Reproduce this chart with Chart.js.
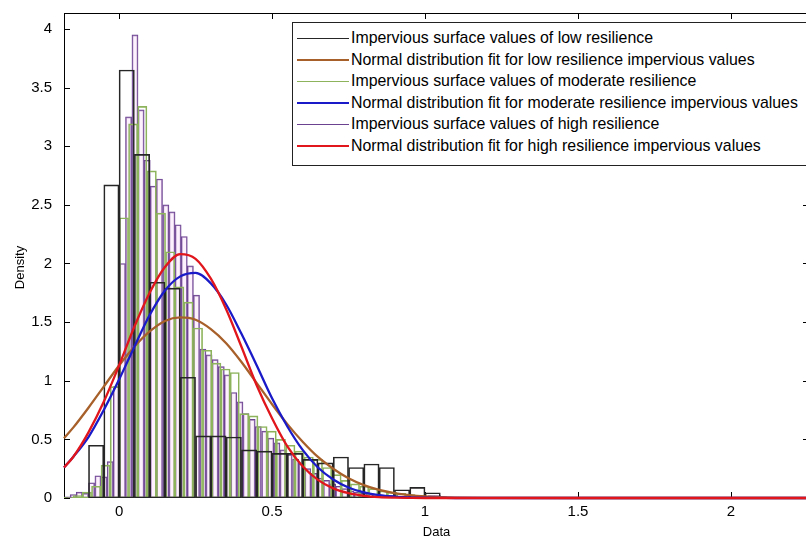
<!DOCTYPE html>
<html>
<head>
<meta charset="utf-8">
<script src="https://cdn.jsdelivr.net/npm/chart.js@4.4.0/dist/chart.umd.min.js"></script>
<style>
  html, body { margin: 0; padding: 0; background: #fff; overflow: hidden; }
  #wrap { position: relative; width: 806px; height: 540px; overflow: hidden; }
  #grafica { position: absolute; left: 0; top: 0; }
  #leyenda {
    position: absolute; left: 292px; top: 22px; width: 560px; height: 142px;
    border: 1px solid #222; background: #fff;
    font: 15.9px "Liberation Sans", Arial, sans-serif; color: #000;
  }
  .fila { position: absolute; left: 4px; height: 20px; line-height: 20px; white-space: nowrap; }
  .fila .muestra { position: absolute; left: 0; top: 10px; width: 52px; }
  .fila .texto { position: absolute; left: 54px; top: 0; }
</style>
</head>
<body>
<div id="wrap">
  <canvas id="grafica" width="820" height="540"></canvas>
  <div id="leyenda"></div>
</div>
<script>
// Histograma resiliencia baja (negro), ancho de clase 0.05
const bajaX = [-0.075, -0.025, 0.025, 0.075, 0.125, 0.175, 0.225, 0.275, 0.325, 0.375, 0.425, 0.475,
               0.525, 0.575, 0.625, 0.675, 0.725, 0.775, 0.825, 0.875, 0.925, 0.975, 1.025];
const bajaY = [0.45, 2.67, 3.65, 2.93, 1.84, 1.79, 1.03, 0.53, 0.53, 0.52, 0.41, 0.40,
               0.38, 0.38, 0.33, 0.30, 0.35, 0.26, 0.29, 0.26, 0.07, 0.09, 0.045];

// Histograma resiliencia moderada (verde)
const moderadaX = [-0.165, -0.135, -0.105, -0.075, -0.044, -0.014, 0.016, 0.046, 0.076, 0.107,
                   0.137, 0.167, 0.197, 0.227, 0.258, 0.288, 0.318, 0.348, 0.378, 0.409,
                   0.439, 0.469, 0.499, 0.529, 0.560, 0.590, 0.620, 0.650, 0.680, 0.711,
                   0.741, 0.771, 0.801, 0.831, 0.862, 0.892, 0.922, 0.952, 0.982, 1.013];
const moderadaY = [0.005, 0.02, 0.05, 0.10, 0.28, 0.95, 2.39, 3.19, 3.34, 2.79,
                   2.43, 2.10, 1.80, 1.67, 1.45, 1.26, 1.15, 1.10, 1.07, 0.72,
                   0.70, 0.61, 0.57, 0.50, 0.45, 0.40, 0.35, 0.33, 0.26, 0.20,
                   0.15, 0.12, 0.10, 0.08, 0.06, 0.05, 0.04, 0.03, 0.02, 0.01];

// Histograma resiliencia alta (morado)
const altaX = [-0.171, -0.150, -0.130, -0.110, -0.090, -0.069, -0.049, -0.029, -0.009,
               0.011, 0.031, 0.052, 0.072, 0.092, 0.112, 0.132, 0.153, 0.173, 0.193, 0.213,
               0.233, 0.253, 0.274, 0.294, 0.314, 0.334, 0.354, 0.375, 0.395, 0.415,
               0.435, 0.455, 0.476, 0.496, 0.516, 0.536, 0.556, 0.577, 0.597, 0.617,
               0.637, 0.657, 0.678, 0.698, 0.718, 0.738, 0.758, 0.779, 0.799, 0.819,
               0.839, 0.859, 0.880, 0.900, 0.920, 0.940, 0.960, 0.981, 1.001, 1.021,
               1.041, 1.061];
const altaY = [0.01, 0.03, 0.05, 0.04, 0.13, 0.19, 0.18, 0.31, 0.95,
               2.00, 3.25, 3.95, 3.31, 2.88, 2.66, 2.72, 2.50, 2.44, 2.33, 2.23,
               1.98, 1.73, 1.27, 1.22, 1.18, 1.12, 1.05, 0.90, 0.82, 0.72,
               0.67, 0.61, 0.57, 0.51, 0.47, 0.41, 0.37, 0.33, 0.29, 0.25,
               0.21, 0.17, 0.15, 0.12, 0.10, 0.08, 0.06, 0.05, 0.04, 0.035,
               0.03, 0.025, 0.02, 0.02, 0.015, 0.01, 0.01, 0.005, 0.01, 0.02,
               0.02, 0.01];

// Curvas de ajuste normal
const ajusteX = [-0.18, -0.15, -0.1, -0.05, 0, 0.05, 0.1, 0.15, 0.2, 0.25, 0.3, 0.35, 0.4, 0.45,
                 0.5, 0.55, 0.6, 0.65, 0.7, 0.75, 0.8, 0.85, 0.9, 0.95, 1.0, 1.05, 1.1, 1.2,
                 1.5, 1.8, 2.0, 2.26];
const ajusteBaja = [0.51, 0.60, 0.77, 0.95, 1.13, 1.29, 1.42, 1.51, 1.54, 1.52, 1.44, 1.32, 1.16, 0.98,
                    0.80, 0.63, 0.48, 0.35, 0.25, 0.168, 0.11, 0.069, 0.042, 0.025, 0.014, 0.0075, 0.004, 0.001,
                    0, 0, 0, 0];
const ajusteModerada = [0.26, 0.35, 0.52, 0.75, 1.01, 1.29, 1.56, 1.77, 1.89, 1.92, 1.83, 1.65, 1.40, 1.13,
                        0.85, 0.61, 0.41, 0.26, 0.158, 0.089, 0.048, 0.024, 0.012, 0.005, 0.002, 0.001, 0, 0,
                        0, 0, 0, 0];
const ajusteAlta = [0.26, 0.35, 0.56, 0.82, 1.13, 1.46, 1.75, 1.97, 2.08, 2.04, 1.87, 1.61, 1.29, 0.96,
                    0.68, 0.44, 0.27, 0.154, 0.082, 0.041, 0.019, 0.008, 0.0035, 0.0013, 0, 0, 0, 0,
                    0, 0, 0, 0];

const ticksX = [0, 0.5, 1, 1.5, 2];
const ticksY = [0, 0.5, 1, 1.5, 2, 2.5, 3, 3.5, 4];

const etiquetas = [
    'Impervious surface values of low resilience',
    'Normal distribution fit for low resilience impervious values',
    'Impervious surface values of moderate resilience',
    'Normal distribution fit for moderate resilience impervious values',
    'Impervious surface values of high resilience',
    'Normal distribution fit for high resilience impervious values'
];

const fuente = '"Liberation Sans", Arial, sans-serif';

function puntos(xs, ys) {
    return xs.map((x, i) => ({ x: x, y: ys[i] }));
}

function histograma(label, eje, xs, ys, borde, relleno, orden) {
    return {
        type: 'bar', label: label, xAxisID: eje,
        data: puntos(xs, ys),
        backgroundColor: relleno, borderColor: borde, borderWidth: 1,
        borderSkipped: false, barPercentage: 1, categoryPercentage: 1,
        grouped: false, order: orden
    };
}

function curva(label, ys, color, orden) {
    return {
        type: 'line', label: label, xAxisID: 'x',
        data: puntos(ajusteX, ys),
        borderColor: color, borderWidth: 2.3, pointRadius: 0,
        cubicInterpolationMode: 'monotone', fill: false, order: orden,
        clip: 3
    };
}

// Marco y marcas hacia dentro, estilo MATLAB, y titulo del eje Y
const marco = {
    id: 'marco',
    beforeDatasetsDraw(chart) {
        const { ctx, chartArea: a, scales } = chart;
        ctx.save();
        ctx.strokeStyle = '#000';
        ctx.lineWidth = 1;
        ctx.strokeRect(Math.round(a.left) + 0.5, Math.round(a.top) + 0.5,
                       Math.round(a.right - a.left) - 1, Math.round(a.bottom - a.top) - 1);
        ctx.beginPath();
        scales.x.ticks.forEach(t => {
            const px = Math.round(scales.x.getPixelForValue(t.value)) + 0.5;
            ctx.moveTo(px, a.bottom); ctx.lineTo(px, a.bottom - 6);
            ctx.moveTo(px, a.top); ctx.lineTo(px, a.top + 6);
        });
        scales.y.ticks.forEach(t => {
            const py = Math.round(scales.y.getPixelForValue(t.value)) + 0.5;
            ctx.moveTo(a.left, py); ctx.lineTo(a.left + 6, py);
            ctx.moveTo(a.right, py); ctx.lineTo(a.right - 6, py);
        });
        ctx.stroke();

        ctx.translate(20, (a.top + a.bottom) / 2 + 12);
        ctx.rotate(-Math.PI / 2);
        ctx.fillStyle = '#000';
        ctx.font = '13px ' + fuente;
        ctx.textAlign = 'center';
        ctx.textBaseline = 'middle';
        ctx.fillText('Density', 0, 0);
        ctx.restore();
    }
};

const ejeOculto = { type: 'linear', display: false, offset: false, min: -0.18, max: 2.255 };

const grafica = new Chart(document.getElementById('grafica'), {
    data: {
        datasets: [
            histograma(etiquetas[0], 'xBaja', bajaX, bajaY, '#262626', 'rgba(0,0,0,0)', 4),
            curva(etiquetas[1], ajusteBaja, '#a8602a', 3),
            histograma(etiquetas[2], 'xModerada', moderadaX, moderadaY, '#8db45c', 'rgba(0,0,0,0)', 5),
            curva(etiquetas[3], ajusteModerada, '#1a1ac8', 2),
            histograma(etiquetas[4], 'xAlta', altaX, altaY, '#6a4290', 'rgba(250,220,250,0.4)', 6),
            curva(etiquetas[5], ajusteAlta, '#e0161c', 1)
        ]
    },
    options: {
        responsive: false,
        animation: false,
        events: [],
        layout: { padding: { top: 13, right: 11, left: 0, bottom: 0 } },
        plugins: { legend: { display: false }, tooltip: { enabled: false } },
        scales: {
            x: {
                type: 'linear', offset: false, min: -0.18, max: 2.255,
                afterBuildTicks: s => { s.ticks = ticksX.map(v => ({ value: v })); },
                afterFit: s => { s.height = 42; s.paddingLeft = 0; s.paddingRight = 0; },
                grid: { display: false, drawTicks: false },
                border: { display: false },
                ticks: {
                    padding: 5, color: '#000', font: { family: fuente, size: 15 },
                    callback: v => String(v)
                },
                title: { display: true, text: 'Data', color: '#000',
                         font: { family: fuente, size: 13 }, padding: { top: 0, bottom: 0 } }
            },
            xBaja: ejeOculto,
            xModerada: ejeOculto,
            xAlta: ejeOculto,
            y: {
                type: 'linear', min: 0, max: 4.136,
                afterBuildTicks: s => { s.ticks = ticksY.map(v => ({ value: v })); },
                afterFit: s => { s.width = 64; s.paddingTop = 0; s.paddingBottom = 0; },
                grid: { display: false, drawTicks: false },
                border: { display: false },
                ticks: {
                    padding: 12, color: '#000', font: { family: fuente, size: 15 },
                    callback: v => String(v)
                }
            }
        }
    },
    plugins: [marco]
});

// Leyenda dentro del area, como en MATLAB
const leyenda = document.getElementById('leyenda');
grafica.data.datasets.forEach((d, i) => {
    const fila = document.createElement('div');
    fila.className = 'fila';
    fila.style.top = (5 + i * 21.6) + 'px';
    const grosor = d.type === 'line' ? 2 : 1;
    fila.innerHTML = '<span class="muestra" style="border-top:' + grosor + 'px solid ' + d.borderColor +
                     ';margin-top:-' + Math.floor(grosor / 2) + 'px"></span><span class="texto"></span>';
    fila.querySelector('.texto').textContent = d.label;
    leyenda.appendChild(fila);
});
</script>
</body>
</html>
